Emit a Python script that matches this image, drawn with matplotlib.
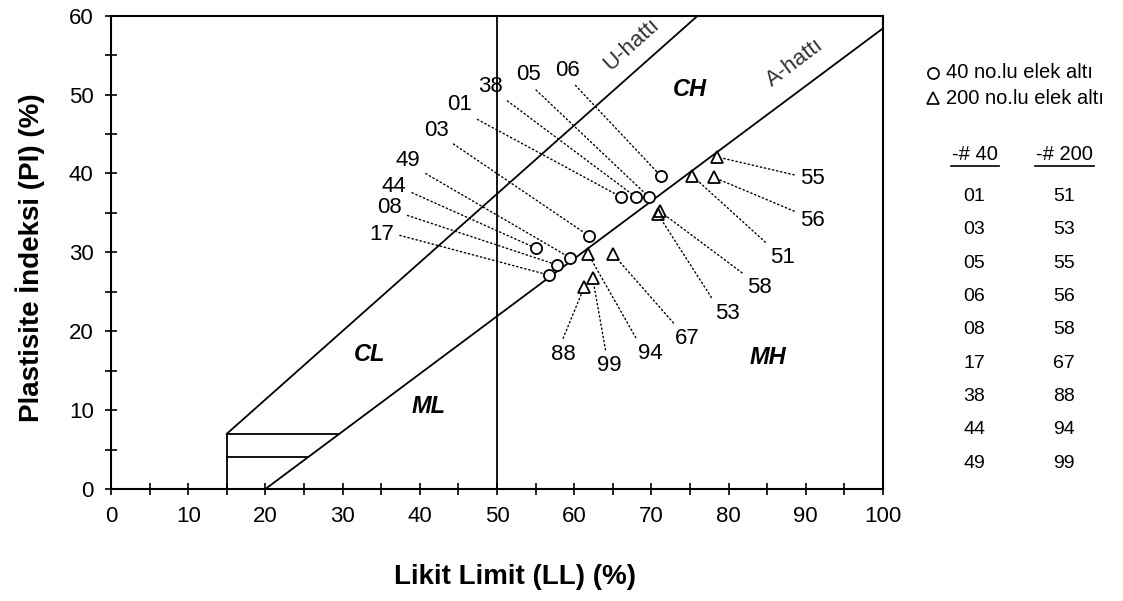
import matplotlib.pyplot as plt
import numpy as np

plt.rcParams['font.family'] = ['Liberation Sans', 'DejaVu Sans']

# -# 40 samples (circles)
ids40 = ['06', '05', '38', '01', '03', '49', '44', '08', '17']
ll40 = [71.2, 69.7, 68.0, 66.1, 61.9, 59.5, 55.1, 57.8, 56.8]
pi40 = [39.7, 37.0, 37.0, 37.0, 32.1, 29.3, 30.5, 28.4, 27.1]

# -# 200 samples (triangles)
ids200 = ['55', '56', '51', '58', '53', '67', '94', '99', '88']
ll200 = [78.5, 78.1, 75.3, 71.1, 70.8, 65.0, 61.8, 62.4, 61.3]
pi200 = [42.1, 39.5, 39.7, 35.2, 34.9, 29.8, 29.8, 26.7, 25.6]

# chart lines
u_ll = [15, 76]
u_pi = [7, 60]
a_ll = [20, 100]
a_pi = [0, 58.4]

table40 = ['01', '03', '05', '06', '08', '17', '38', '44', '49']
table200 = ['51', '53', '55', '56', '58', '67', '88', '94', '99']

# label placement (text centre in data units, relpos of leader on text box)
lab40 = {'06': (59.1, 53.1, (0.65, 0)), '05': (54.1, 52.5, (0.6, 0)),
         '38': (49.1, 51.0, (1.0, 0)), '01': (45.2, 48.7, (0.9, 0)),
         '03': (42.1, 45.5, (1.0, 0)), '49': (38.5, 41.7, (1.0, 0)),
         '44': (36.7, 38.4, (1.0, 0.3)), '08': (36.1, 35.7, (1.0, 0.2)),
         '17': (35.1, 32.2, (1.0, 0.55))}
lab200 = {'55': (90.8, 39.4, (0, 0.6)), '56': (90.8, 34.0, (0, 0.85)),
          '51': (87.0, 29.4, (0, 1)), '58': (84.0, 25.6, (0, 1)),
          '53': (79.8, 22.3, (0, 1)), '67': (74.7, 19.1, (0.1, 1)),
          '94': (69.8, 17.2, (0.05, 1)), '99': (64.5, 15.6, (0.4, 1)),
          '88': (58.6, 17.1, (0.4, 1))}

W, H = 1123, 601
fig = plt.figure(figsize=(W / 100, H / 100), dpi=100)
ax = fig.add_axes([111 / W, 1 - 489 / H, (883 - 111) / W, (489 - 15.7) / H])

ax.plot(u_ll, u_pi, color='black', lw=1.3)
ax.plot(a_ll, a_pi, color='black', lw=1.3)
ax.axvline(50, color='black', lw=1.3)
# CL-ML zone
ax.plot([15, 15], [0, 7], color='black', lw=1.3)
ax.plot([15, 20 + 7 / 0.73], [7, 7], color='black', lw=1.3)
ax.plot([15, 20 + 4 / 0.73], [4, 4], color='black', lw=1.3)

dot = (0, (1, 2))
for i, s in enumerate(ids40):
    tx, ty, rp = lab40[s]
    ax.annotate(s, xy=(ll40[i], pi40[i]), xytext=(tx, ty), ha='center', va='center',
                fontsize=16,
                arrowprops=dict(arrowstyle='-', linestyle=dot, lw=1, color='black',
                                relpos=rp, shrinkA=2, shrinkB=4))
for i, s in enumerate(ids200):
    tx, ty, rp = lab200[s]
    ax.annotate(s, xy=(ll200[i], pi200[i]), xytext=(tx, ty), ha='center', va='center',
                fontsize=16,
                arrowprops=dict(arrowstyle='-', linestyle=dot, lw=1, color='black',
                                relpos=rp, shrinkA=2, shrinkB=4))

ax.plot(ll40, pi40, 'o', ms=8, mfc='white', mec='black', mew=1.3, ls='none', zorder=5)
ax.plot(ll200, pi200, '^', ms=9, mfc='none', mec='black', mew=1.3, ls='none', zorder=5)

ax.text(75.0, 50.6, 'CH', fontsize=17, fontweight='bold', style='italic', ha='center', va='center')
ax.text(33.5, 17.0, 'CL', fontsize=17, fontweight='bold', style='italic', ha='center', va='center')
ax.text(41.1, 10.5, 'ML', fontsize=17, fontweight='bold', style='italic', ha='center', va='center')
ax.text(85.1, 16.7, 'MH', fontsize=17, fontweight='bold', style='italic', ha='center', va='center')
ax.text(67.4, 56.3, 'U-hattı', fontsize=16, rotation=42, color='#333333', ha='center', va='center')
ax.text(88.6, 54.0, 'A-hattı', fontsize=16, rotation=37, color='#333333', ha='center', va='center')

ax.set_xlim(0, 100)
ax.set_ylim(0, 60)
ax.set_xticks(np.arange(0, 101, 10))
ax.set_yticks(np.arange(0, 61, 10))
ax.set_xticks(np.arange(5, 100, 10), minor=True)
ax.set_yticks(np.arange(5, 60, 10), minor=True)
ax.tick_params(which='both', direction='inout', length=9, width=1.2, labelsize=16)
ax.tick_params(axis='x', which='major', pad=8)
ax.tick_params(axis='y', which='major', pad=8)
for sp in ax.spines.values():
    sp.set_linewidth(1.5)

fig.text(515 / W, 1 - 577 / H, 'Likit Limit (LL) (%)', fontsize=20, fontweight='bold',
         ha='center', va='center')
fig.text(30 / W, 1 - 258 / H, 'Plastisite İndeksi (PI) (%)', fontsize=20, fontweight='bold',
         ha='center', va='center', rotation=90)

# legend
fig.lines.append(plt.Line2D([933 / W], [1 - 72.7 / H], marker='o', ms=8, mfc='white', mec='black',
                            mew=1.2, transform=fig.transFigure))
fig.lines.append(plt.Line2D([933 / W], [1 - 98.3 / H], marker='^', ms=8, mfc='white', mec='black',
                            mew=1.2, transform=fig.transFigure))
fig.text(946 / W, 1 - 72.7 / H, '40 no.lu elek altı', fontsize=14.5, va='center')
fig.text(946 / W, 1 - 98.3 / H, '200 no.lu elek altı', fontsize=14.5, va='center')

fig.text(975 / W, 1 - 155 / H, '-# 40', fontsize=14.5, ha='center', va='center')
fig.text(1064 / W, 1 - 155 / H, '-# 200', fontsize=14.5, ha='center', va='center')
fig.lines.append(plt.Line2D([951 / W, 999 / W], [1 - 166 / H] * 2, color='black', lw=1.2,
                            transform=fig.transFigure))
fig.lines.append(plt.Line2D([1035 / W, 1094 / W], [1 - 166 / H] * 2, color='black', lw=1.2,
                            transform=fig.transFigure))
for k in range(len(table40)):
    yy = 1 - (196.7 + 33.3 * k) / H
    fig.text(974 / W, yy, table40[k], fontsize=14, ha='center', va='center')
    fig.text(1064 / W, yy, table200[k], fontsize=14, ha='center', va='center')

fig.savefig('out.png', dpi=100)
